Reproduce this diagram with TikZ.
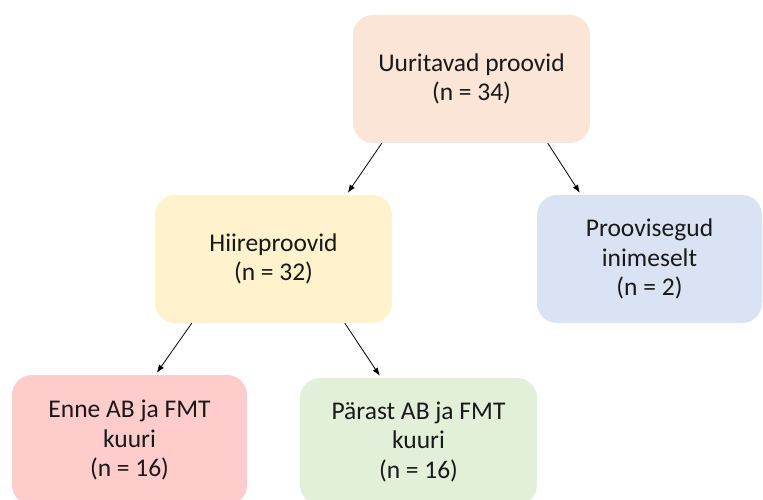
\documentclass[tikz,border=0pt]{standalone}
\usepackage{fontspec}
\setmainfont{Carlito}
\usepackage{tikz}
\usetikzlibrary{calc,positioning,arrows,arrows.meta}
\definecolor{peach}{HTML}{FBE5D6}
\definecolor{mustard}{HTML}{FFF2CC}
\definecolor{sky}{HTML}{DAE3F3}
\definecolor{rose}{HTML}{FFCCCC}
\definecolor{mint}{HTML}{E2F0D9}
\begin{document}
\begin{tikzpicture}[x=1pt,y=-1pt,box/.style={rounded corners=20pt,align=center,inner sep=0pt,minimum width=237pt,text=black!90,font=\fontsize{25.5}{29.5}\selectfont},>={Latex[length=8pt,width=6pt]}]
            \useasboundingbox (0,0) rectangle (763,500);
            \node[box,fill=peach,minimum height=128pt] (uur) at (471.5,79) {Uuritavad proovid\\(n = 34)};
            \node[box,fill=mustard,minimum height=128pt] (hiir) at (273.5,259) {Hiireproovid\\(n = 32)};
            \node[box,fill=sky,minimum height=128pt,minimum width=225pt] (inim) at (649.5,259) {Proovisegud\\inimeselt\\(n = 2)};
            \node[box,fill=rose,minimum height=130pt,minimum width=235pt] (enne) at (129.5,440) {Enne AB ja FMT\\kuuri\\(n = 16)};
            \node[box,fill=mint,minimum height=127pt] (parast) at (418.5,441.5) {Pärast AB ja FMT\\kuuri\\(n = 16)};

            \draw[->,line width=0.8pt] ($(uur.south west)+(29,0)$) -- ($(hiir.north west)+(193,-2)$);
            \draw[->,line width=0.8pt] ($(uur.south west)+(195,0)$) -- ($(inim.north west)+(43,-2)$);
            \draw[->,line width=0.8pt] ($(hiir.south west)+(37,0)$) -- ($(enne.north west)+(145,-2)$);
            \draw[->,line width=0.8pt] ($(hiir.south west)+(190,0)$) -- ($(parast.north west)+(80,-2)$);
          \end{tikzpicture}
\end{document}
